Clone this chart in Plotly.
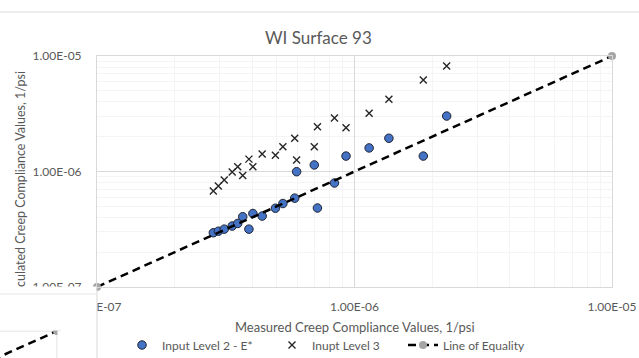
import plotly.graph_objects as go

# ---- data ----
measured = [2.83e-7, 2.96e-7, 3.12e-7, 3.35e-7, 3.52e-7, 3.68e-7, 3.89e-7, 4.03e-7,
            4.38e-7, 4.93e-7, 5.27e-7, 5.86e-7, 5.96e-7, 6.98e-7, 7.18e-7, 8.36e-7,
            9.27e-7, 1.14e-6, 1.36e-6, 1.85e-6, 2.28e-6]
level2 = [2.95e-7, 3.04e-7, 3.17e-7, 3.37e-7, 3.55e-7, 4.06e-7, 3.17e-7, 4.33e-7,
          4.11e-7, 4.81e-7, 5.28e-7, 5.88e-7, 9.96e-7, 1.14e-6, 4.83e-7, 7.95e-7,
          1.36e-6, 1.60e-6, 1.94e-6, 1.36e-6, 3.02e-6]
level3 = [6.78e-7, 7.49e-7, 8.44e-7, 9.90e-7, 1.10e-6, 9.23e-7, 1.28e-6, 1.10e-6,
          1.42e-6, 1.38e-6, 1.64e-6, 1.94e-6, 1.26e-6, 1.64e-6, 2.44e-6, 2.90e-6,
          2.39e-6, 3.19e-6, 4.22e-6, 6.20e-6, 8.19e-6]
equality = [1e-7, 1e-5]

tick_vals = [1e-7, 1e-6, 1e-5]
tick_text = ["1.00E-07", "1.00E-06", "1.00E-05"]
minor_vals = [m * 10.0 ** e for e in (-7, -6) for m in range(2, 10)]

names = ["Input Level 2 - E*", "Inupt Level 3", "Line of Equality"]
title_text = "WI Surface 93"
x_title = "Measured Creep Compliance Values, 1/psi"
y_title_visible = "culated Creep Compliance Values, 1/psi"

# ---- layout geometry (pixels of a 639x358 canvas) ----
W, H = 639, 358
FONT = "Lato"
GREY_TXT = "#595959"


def px(x):
    return x / W


def py(y):
    return (H - y) / H


fig = go.Figure()

fig.add_trace(go.Scatter(
    x=measured, y=level2, mode="markers", name=names[0], legend="legend",
    marker=dict(symbol="circle", size=8.5, color="#4472C4",
                line=dict(color="#1f2433", width=1)),
))
fig.add_trace(go.Scatter(
    x=measured, y=level3, mode="markers", name=names[1], legend="legend2",
    marker=dict(symbol="x-thin", size=7, color="#262626",
                line=dict(color="#262626", width=1.4)),
))
fig.add_trace(go.Scatter(
    x=equality, y=equality, mode="lines+markers", name=names[2], legend="legend3",
    line=dict(color="black", width=2.5, dash="8px,5px"),
    marker=dict(symbol="circle", size=8, color="#a5a5a5"),
    cliponaxis=False,
))
# fragment of the neighbouring chart (bottom-left corner)
fig.add_trace(go.Scatter(
    x=equality, y=equality, mode="lines+markers", showlegend=False,
    xaxis="x2", yaxis="y2", hoverinfo="skip",
    line=dict(color="black", width=2.5, dash="8px,5px"),
    marker=dict(symbol="circle", size=8, color="#a5a5a5"),
    cliponaxis=False,
))

axis_common = dict(
    type="log", range=[-7, -5], tickmode="array", tickvals=tick_vals, ticktext=tick_text,
    showgrid=True, gridcolor="#d9d9d9", gridwidth=1,
    showline=True, mirror=True, linecolor="#d9d9d9", linewidth=1,
    ticks="", tickfont=dict(family=FONT, size=12, color=GREY_TXT),
    minor=dict(tickvals=minor_vals, showgrid=True, gridcolor="#f4f4f4", ticks=""),
    zeroline=False, automargin=False,
)

legend_common = dict(orientation="h", yanchor="middle", xanchor="left",
                     bgcolor="rgba(0,0,0,0)", borderwidth=0,
                     font=dict(family=FONT, size=12, color=GREY_TXT))

fig.update_layout(
    width=W, height=H, margin=dict(l=0, r=0, t=0, b=0, pad=0, autoexpand=False),
    paper_bgcolor="white", plot_bgcolor="white",
    showlegend=True,
    xaxis=dict(domain=[px(97), px(612)], ticklabelstandoff=9, **axis_common),
    yaxis=dict(domain=[py(287), py(56)], ticklabelstandoff=12, **axis_common),
    xaxis2=dict(type="log", domain=[0, px(57)], range=[-5 - 57 / 257.5, -5],
                showticklabels=False, showgrid=False, zeroline=False, showline=False,
                anchor="y2"),
    yaxis2=dict(type="log", domain=[0, py(331)], range=[-5 - 27 / 115.5, -5],
                showticklabels=False, showgrid=False, zeroline=False, showline=False,
                anchor="x2"),
    legend=dict(x=px(122), y=py(345), **legend_common),
    legend2=dict(x=px(272), y=py(345), **legend_common),
    legend3=dict(x=px(403), y=py(345), **legend_common),
    annotations=[
        dict(text=title_text, x=px(318), y=py(37), xref="paper", yref="paper",
             showarrow=False, xanchor="center", yanchor="middle",
             font=dict(family=FONT, size=17, color=GREY_TXT)),
        dict(text=x_title, x=px(355), y=py(326.5), xref="paper", yref="paper",
             showarrow=False, xanchor="center", yanchor="middle",
             font=dict(family=FONT, size=13, color=GREY_TXT)),
        dict(text=y_title_visible, x=px(20), y=py(289), xref="paper", yref="paper",
             showarrow=False, xanchor="center", yanchor="bottom", textangle=-90,
             font=dict(family=FONT, size=12.5, color=GREY_TXT)),
    ],
    shapes=[
        # white area of the overlapping neighbouring chart
        dict(type="rect", xref="paper", yref="paper", x0=0, x1=px(96.5),
             y0=py(330.5), y1=py(286.5), fillcolor="white", line=dict(width=0), layer="above"),
        dict(type="rect", xref="paper", yref="paper", x0=px(57.5), x1=px(96.5),
             y0=0, y1=py(330.5), fillcolor="white", line=dict(width=0), layer="above"),
        # frame lines
        dict(type="line", xref="paper", yref="paper", x0=px(97), x1=px(97),
             y0=0, y1=py(287), line=dict(color="#d9d9d9", width=1), layer="above"),
        dict(type="line", xref="paper", yref="paper", x0=0, x1=px(96.5),
             y0=py(294), y1=py(294), line=dict(color="#e6e6e6", width=1), layer="above"),
        dict(type="line", xref="paper", yref="paper", x0=0, x1=1,
             y0=py(12), y1=py(12), line=dict(color="#d9d9d9", width=1), layer="above"),
        dict(type="line", xref="x2 domain", yref="y2 domain", x0=0, x1=1, y0=1, y1=1,
             line=dict(color="#d9d9d9", width=1), layer="below"),
        dict(type="line", xref="x2 domain", yref="y2 domain", x0=1, x1=1, y0=0, y1=1,
             line=dict(color="#d9d9d9", width=1), layer="below"),
    ],
)

fig.write_html("out.html")
